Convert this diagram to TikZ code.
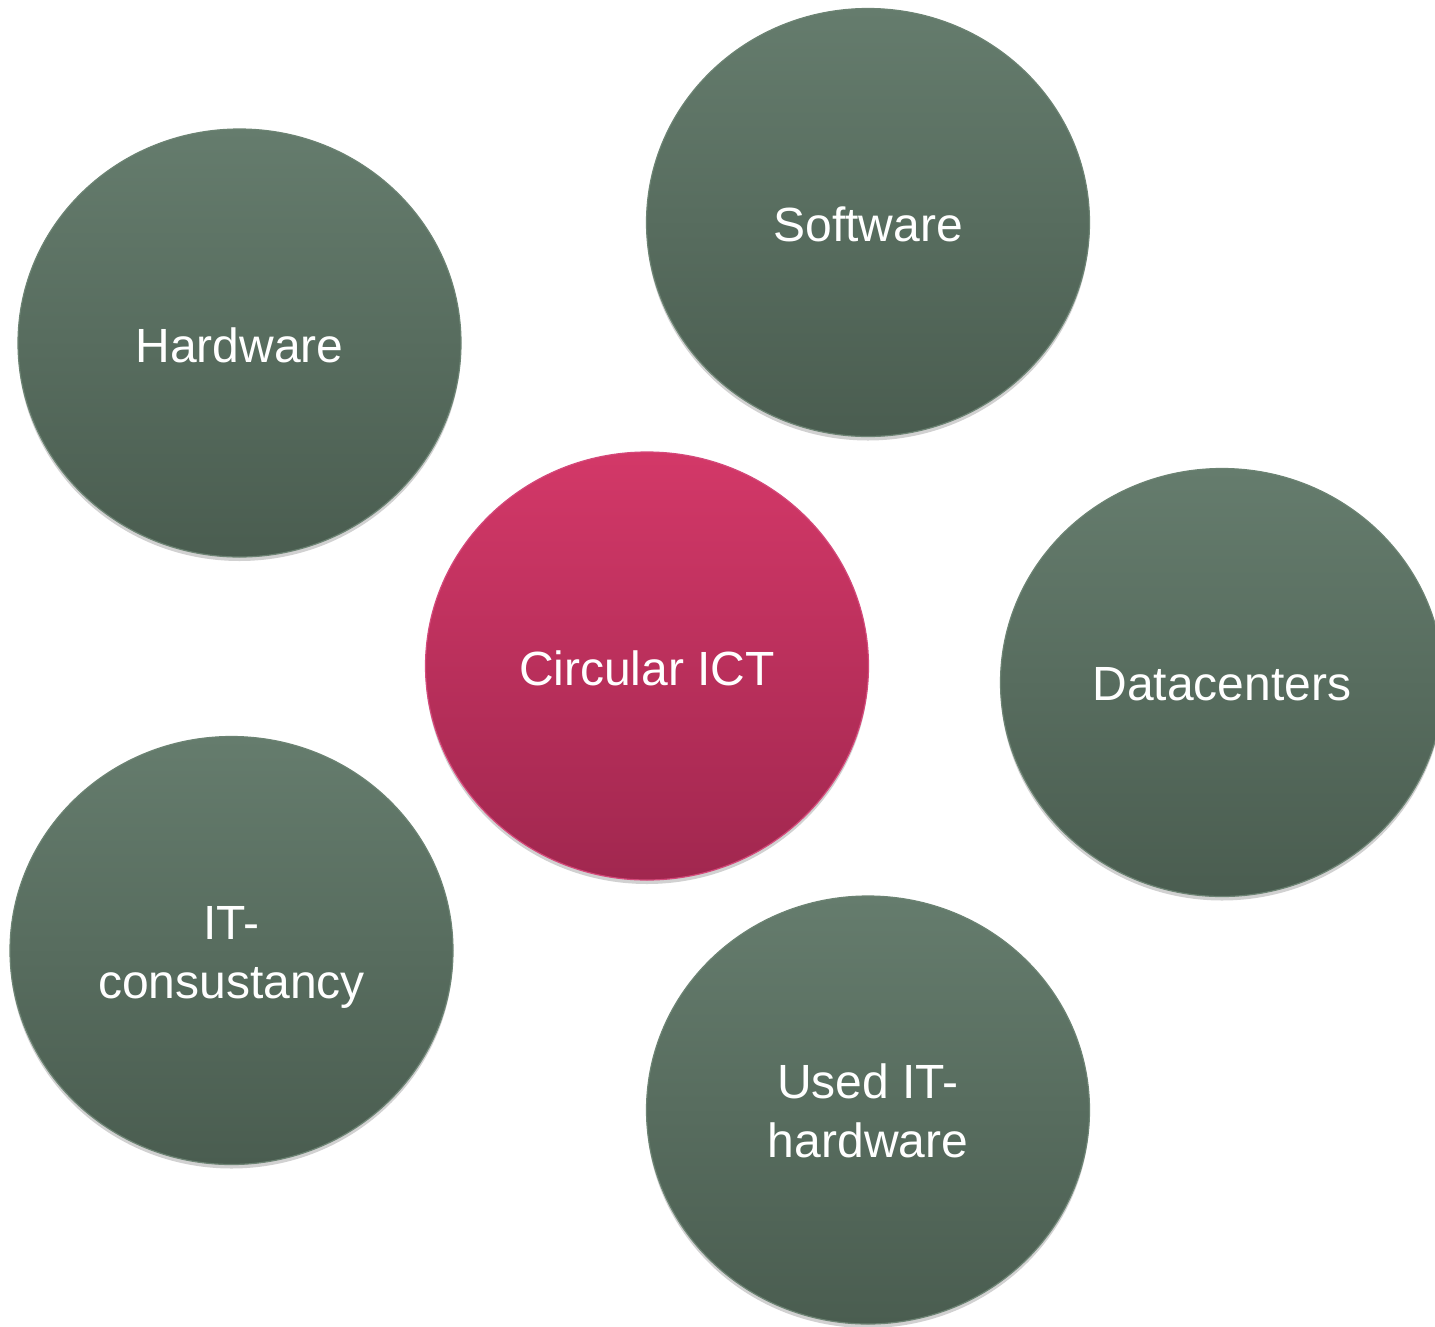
\documentclass[tikz,border=0pt]{standalone}
\usepackage{fontspec}
\setmainfont{Liberation Sans}
\usetikzlibrary{shapes.geometric,shadows}
\definecolor{gtop}{HTML}{657C6D}
\definecolor{gbot}{HTML}{4A5D50}
\definecolor{gline}{HTML}{6C8373}
\definecolor{ptop}{HTML}{D33868}
\definecolor{pbot}{HTML}{A1274F}
\definecolor{pline}{HTML}{D4497A}
\tikzset{
  x=1pt,y=-1pt,
  bubble/.style={ellipse, minimum width=443pt, minimum height=428pt, inner sep=0pt,
    line width=1.2pt,
    drop shadow={shadow xshift=0pt, shadow yshift=-4pt, opacity=0.18, fill=black}},
  greenbubble/.style={bubble, draw=gline, top color=gtop, bottom color=gbot},
  pinkbubble/.style={bubble, draw=pline, top color=ptop, bottom color=pbot},
  lbl/.style={text=white, font=\fontsize{48}{59}\selectfont, align=center},
}
\begin{document}
\begin{tikzpicture}
\useasboundingbox (0,0) rectangle (1435,1326);
\clip (0,0) rectangle (1435,1326);
\fill[white] (0,0) rectangle (1435,1326);
\node[greenbubble] (hw) at (239.5,343) {};
\node[greenbubble] (sw) at (868,222.5) {};
\node[greenbubble] (dc) at (1222,682.5) {};
\node[greenbubble] (itc) at (231.5,950.5) {};
\node[greenbubble] (used) at (868,1110) {};
\node[pinkbubble] (ict) at (647,666) {};
\node[lbl] (hwt) at ([yshift=-2pt]hw.center) {Hardware};
\node[lbl] (swt) at ([yshift=-2pt]sw.center) {Software};
\node[lbl] (dct) at ([yshift=-2pt]dc.center) {Datacenters};
\node[lbl] (itct) at ([yshift=-7pt]itc.center) {IT-\\consustancy};
\node[lbl] (usedt) at ([yshift=-1pt]used.center) {Used IT-\\hardware};
\node[lbl] (ictt) at ([yshift=-2pt]ict.center) {Circular ICT};
\end{tikzpicture}
\end{document}
